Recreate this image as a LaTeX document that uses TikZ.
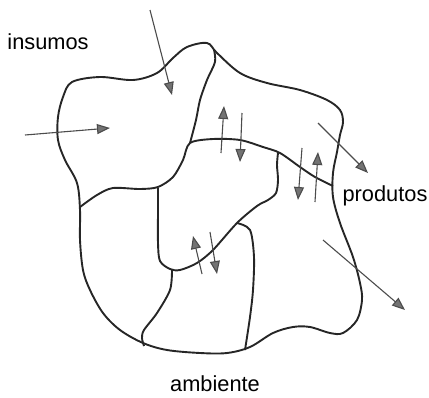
\documentclass[tikz,border=0pt]{standalone}
\usepackage{fontspec}
\setmainfont{Liberation Sans}
\usepackage{tikz}
\usetikzlibrary{arrows.meta}
\colorlet{edgeline}{black!85}
\colorlet{flowline}{black!70}
\colorlet{flowhead}{black!55}

\begin{document}
\begin{tikzpicture}[x=0.5pt, y=-0.5pt,
    >={Triangle[length=6.5pt, width=5pt, fill=flowhead]},
    boundary/.style={draw=edgeline, line width=0.95pt, line join=round},
    flow/.style={->, draw=flowline, line width=0.55pt},
    lbl/.style={font=\fontsize{10.9}{12}\selectfont, inner sep=0pt}]
    \useasboundingbox (0,0) rectangle (429,397);

    % Outer boundary
    \draw[boundary] plot[smooth cycle, tension=0.55] coordinates {
      (72,82) (100,77) (133,80) (157,73) (173,58) (187,47) (207,43) (217,53)
      (240,73) (267,83) (300,90) (327,100) (340,110) (343,122) (340,135)
      (337,152) (333,173) (333,197) (340,223) (353,257) (360,283) (362,300)
      (357,320) (343,333) (330,333) (310,327) (293,327) (273,333) (250,347)
      (227,353) (200,353) (167,350) (143,343) (120,330) (103,313) (90,290)
      (83,270) (80,240) (80,210) (77,183) (65,160) (58,140) (58,117) (63,97)};

    % Inner borders
    \draw[boundary] plot[smooth] coordinates {(214,50) (215,62) (207,80) (200,100) (196,120) (190,143)};
    \draw[boundary] plot[smooth] coordinates {
      (80,207) (97,195) (113,188) (140,189) (158,187) (173,177) (183,160)
      (190,143) (213,139) (240,140) (263,147) (280,153) (300,167) (315,177) (333,186)};
    \draw[boundary] plot[smooth] coordinates {
      (278,153) (277,165) (278,180) (276,193) (268,200) (257,206) (237,223)
      (213,250) (197,263) (180,270) (170,269) (160,261) (158,243) (158,210) (158,188)};
    \draw[boundary] plot[smooth] coordinates {(237,223) (250,230) (254,257) (253,290) (250,317) (245,350)};
    \draw[boundary] plot[smooth] coordinates {(172,270) (170,290) (157,313) (144,330) (142,338) (144,346)};

    % Inputs
    \draw[flow] (150,10) -- (172,95);
    \draw[flow] (25,135) -- (110,128);

    % Exchanges between parts
    \draw[flow] (221,153) -- (224,106);
    \draw[flow] (242,113) -- (240,162);
    \draw[flow] (302,148) -- (298,200);
    \draw[flow] (315,202) -- (318,152);
    \draw[flow] (202,274) -- (193,236);
    \draw[flow] (210,232) -- (217,274);

    % Outputs
    \draw[flow] (318,123) -- (368,173);
    \draw[flow] (323,240) -- (405,310);

    % Labels
    \node[lbl] (insumos) at (48,42) {insumos};
    \node[lbl] (produtos) at (385,196) {produtos};
    \node[lbl] (ambiente) at (215,384) {ambiente};
\end{tikzpicture}
\end{document}
